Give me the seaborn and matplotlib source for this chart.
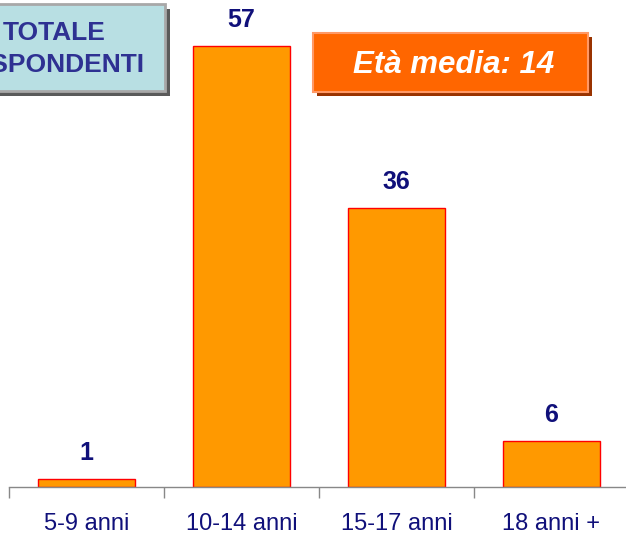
import numpy as np
import pandas as pd
import matplotlib
matplotlib.use("Agg")
import matplotlib.pyplot as plt
from matplotlib.patches import Rectangle
import seaborn as sns

categories = ["5-9 anni", "10-14 anni", "15-17 anni", "18 anni +"]
values = [1, 57, 36, 6]
total_label = "TOTALE\nRISPONDENTI"
mean_label = "Età media: 14"

df = pd.DataFrame({"classe": categories, "valore": values})

sns.set_style("white")
plt.rcParams["font.family"] = ["Liberation Sans", "DejaVu Sans"]

W, H = 626, 535
fig = plt.figure(figsize=(W / 100, H / 100), dpi=100)
ax = fig.add_axes([9 / W, 48 / H, 620 / W, 487 / H])

sns.barplot(data=df, x="classe", y="valore", color="#FF9900", saturation=1,
            edgecolor="#FF0000", linewidth=1, width=0.63, ax=ax)

ax.set_xlim(-0.5, 3.5)
ax.set_ylim(0, 487 / 7.74)
ax.set_xlabel("")
ax.set_ylabel("")
ax.set_yticks([])
for s in ["top", "right", "left"]:
    ax.spines[s].set_visible(False)
ax.spines["bottom"].set_color("#888888")
ax.spines["bottom"].set_linewidth(1)

# boundary ticks, labels in the middle
ax.set_xticks(np.arange(len(categories) + 1) - 0.5, minor=True)
ax.tick_params(axis="x", which="minor", bottom=True, length=8, color="#888888",
               width=1, direction="out")
ax.tick_params(axis="x", which="major", bottom=True, length=0, pad=18.5,
               labelsize=17, labelcolor="#10107A")

for i, v in enumerate(values):
    ax.annotate(str(v), (i, v), xytext=(0, 10), textcoords="offset points",
                ha="center", va="bottom", fontsize=18, fontweight="bold", color="#10107A")

def px_rect(x0, y0, x1, y1, **kw):
    # pixel coords from the top-left corner
    r = Rectangle((x0 / W, 1 - y1 / H), (x1 - x0) / W, (y1 - y0) / H,
                  transform=fig.transFigure, **kw)
    fig.patches.append(r)

# total box
px_rect(-60, 9, 170, 96, facecolor="#5A5A5A", edgecolor="none")
px_rect(-60, 4, 165, 91, facecolor="#B8DFE3", edgecolor="#A8A8A8", linewidth=2)
fig.text(54 / W, 1 - 49 / H, total_label, ha="center", va="center", fontsize=19,
         fontweight="bold", color="#2E3192", linespacing=1.4)

# mean age box
px_rect(317, 37, 592, 96, facecolor="#993300", edgecolor="none")
px_rect(313, 33, 588, 92, facecolor="#FF6600", edgecolor="#FF9966", linewidth=1.5)
fig.text(454 / W, 1 - 65 / H, mean_label, ha="center", va="center", fontsize=22.5,
         fontweight="bold", fontstyle="italic", color="white")

fig.savefig("out.png", dpi=100)
